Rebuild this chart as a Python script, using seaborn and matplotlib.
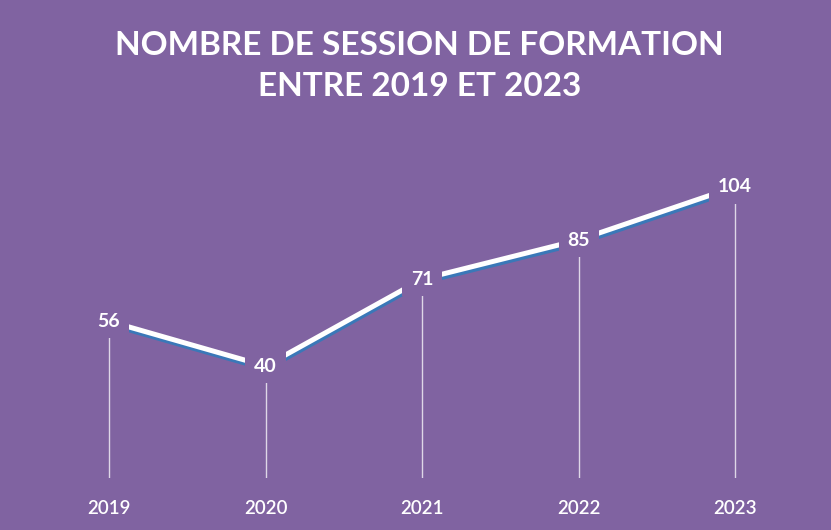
import matplotlib
matplotlib.use("Agg")
import matplotlib.pyplot as plt
import matplotlib.patheffects as pe
import seaborn as sns
import pandas as pd

years = [2019, 2020, 2021, 2022, 2023]
sessions = [56, 40, 71, 85, 104]
title = "NOMBRE DE SESSION DE FORMATION\nENTRE 2019 ET 2023"

bg = "#8063A1"
shadow = "#3A78B8"

sns.set_style("white")
plt.rcParams['font.family'] = ['Lato', 'DejaVu Sans']

df = pd.DataFrame({'year': years, 'sessions': sessions})

fig = plt.figure(figsize=(8.31, 5.30), dpi=100)
fig.patch.set_facecolor(bg)
ax = fig.add_axes([0, 0.098, 1, 0.902])
ax.set_facecolor(bg)

# drop lines from each point to the baseline
ax.vlines(df['year'], 0, df['sessions'], color='white', lw=1, alpha=0.75, zorder=1)

sns.lineplot(data=df, x='year', y='sessions', ax=ax, color='white', lw=3.6,
             zorder=2, legend=False,
             path_effects=[pe.SimpleLineShadow(offset=(0.5, -2.2), shadow_color=shadow, alpha=1),
                           pe.Normal()])

for x, y in zip(df['year'], df['sessions']):
    ax.text(x, y, f'{y}', ha='center', va='center', color='white', fontsize=14,
            fontweight='bold', zorder=3,
            bbox=dict(boxstyle='square,pad=0.45', fc=bg, ec='none'))

ax.set_xlim(2018.3035, 2023.6134)
ax.set_ylim(0, 170.7)
ax.set_xticks(years)
ax.set_xticklabels([str(y) for y in years], color='white', fontsize=13.5,
                   fontweight='semibold')
ax.tick_params(axis='x', length=0, pad=16)
ax.set_yticks([])
ax.set_xlabel('')
ax.set_ylabel('')
for s in ax.spines.values():
    s.set_visible(False)

fig.text(0.505, 0.875, title, ha='center', va='center', color='white',
         fontsize=24, fontweight='bold', linespacing=1.5)

fig.savefig('out.png', dpi=100, facecolor=bg)
